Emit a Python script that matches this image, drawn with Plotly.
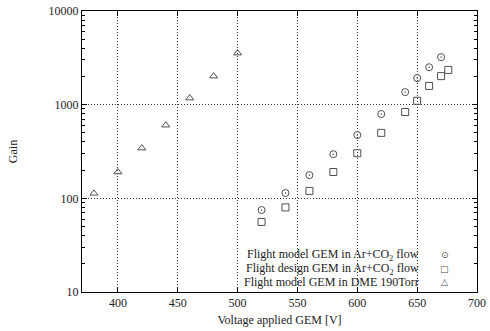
import plotly.graph_objects as go

# Data
v_fm_ar = [520, 540, 560, 580, 600, 620, 640, 650, 660, 670]
g_fm_ar = [75, 114, 177, 296, 474, 795, 1362, 1923, 2510, 3220]

v_fd_ar = [520, 540, 560, 580, 600, 620, 640, 650, 660, 670, 676]
g_fd_ar = [56, 80, 120, 191, 303, 500, 835, 1100, 1585, 2018, 2350]

v_fm_dme = [380, 400, 420, 440, 460, 480, 500]
g_fm_dme = [113, 191, 344, 604, 1175, 2018, 3550]

labels = [
    "Flight model GEM in Ar+CO<sub>2</sub> flow",
    "Flight design GEM in Ar+CO<sub>2</sub> flow",
    "Flight model GEM in DME 190Torr",
]
key_symbols = ["\u2299", "\u25A1", "\u25B3"]

x_title = "Voltage applied GEM [V]"
y_title = "Gain"

FONT = "Liberation Serif, Times New Roman, serif"
MCOL = "#505050"
GRID_DASH = "1px,2px"

fig = go.Figure()
fig.add_trace(go.Scatter(x=v_fm_ar, y=g_fm_ar, mode="markers", name=labels[0],
                         marker=dict(symbol="circle-open-dot", size=7, color=MCOL,
                                     line=dict(width=1, color=MCOL))))
fig.add_trace(go.Scatter(x=v_fd_ar, y=g_fd_ar, mode="markers", name=labels[1],
                         marker=dict(symbol="square-open", size=7, color=MCOL,
                                     line=dict(width=1, color=MCOL))))
fig.add_trace(go.Scatter(x=v_fm_dme, y=g_fm_dme, mode="markers", name=labels[2],
                         marker=dict(symbol="triangle-up-open", size=7, color=MCOL,
                                     line=dict(width=1, color=MCOL))))

# blank the grid behind the key (as gnuplot does)
fig.add_shape(type="rect", xref="x", yref="paper", x0=494, x1=700, y0=0.0, y1=0.16,
              fillcolor="white", line=dict(width=0), layer="below")

key_y = [0.13, 0.083, 0.036]
for lab, sym, yy in zip(labels, key_symbols, key_y):
    fig.add_annotation(xref="paper", yref="paper", x=0.857, y=yy, text=lab,
                       showarrow=False, xanchor="right", yanchor="middle",
                       font=dict(family=FONT, size=12, color="#222"))
    fig.add_annotation(xref="paper", yref="paper", x=0.918, y=yy, text=sym,
                       showarrow=False, xanchor="center", yanchor="middle",
                       font=dict(family="DejaVu Sans", size=9, color=MCOL))

fig.update_layout(
    width=490, height=331,
    margin=dict(l=82, r=13, t=11, b=39),
    paper_bgcolor="white", plot_bgcolor="white",
    showlegend=False,
    font=dict(family=FONT, size=12, color="#222"),
    xaxis=dict(
        range=[370, 700], dtick=50, tick0=400, automargin=False,
        showline=True, linecolor="black", linewidth=1, mirror="ticks",
        ticks="inside", ticklen=5, tickcolor="black",
        showgrid=True, gridcolor="#333", griddash=GRID_DASH, gridwidth=1,
        zeroline=False,
        title=dict(text=x_title, standoff=6, font=dict(family=FONT, size=12)),
        tickfont=dict(family=FONT, size=12),
    ),
    yaxis=dict(
        type="log", range=[1, 4], dtick=1, automargin=False,
        showline=True, linecolor="black", linewidth=1, mirror="ticks",
        ticks="inside", ticklen=5, tickcolor="black",
        showgrid=True, gridcolor="#333", griddash=GRID_DASH, gridwidth=1,
        zeroline=False, tickformat="d",
        minor=dict(ticks="inside", ticklen=3, tickcolor="black", dtick="D1", showgrid=False),
        title=dict(text=y_title, standoff=28, font=dict(family=FONT, size=12)),
        tickfont=dict(family=FONT, size=12),
    ),
)

fig.write_html("out.html")
